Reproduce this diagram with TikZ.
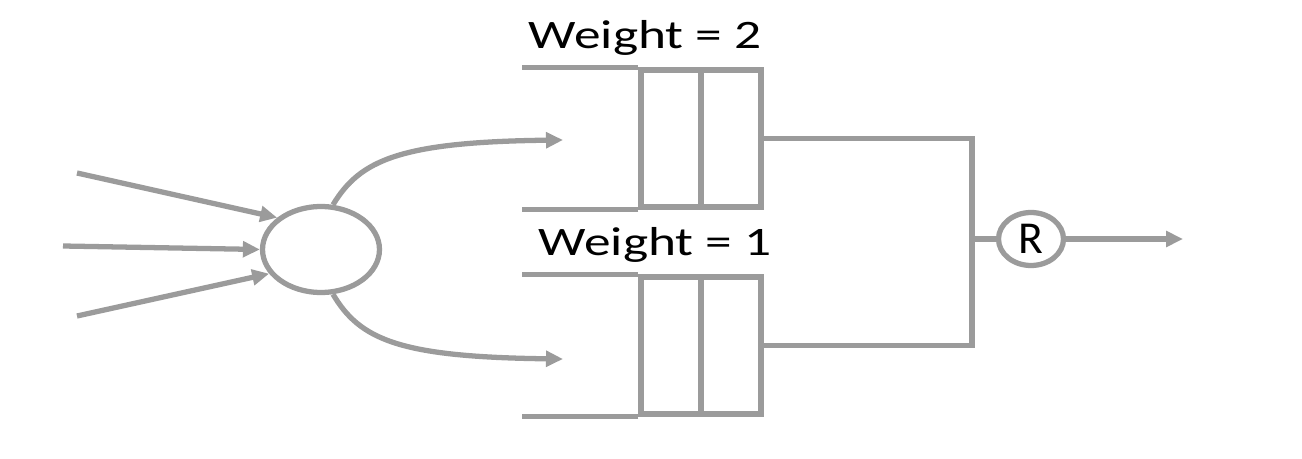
\documentclass[tikz,border=0pt]{standalone}
\usepackage{fontspec}
\setmainfont{Carlito}
\usetikzlibrary{positioning, arrows.meta, shapes.geometric}
\definecolor{lgray}{RGB}{155,155,155}

\begin{document}
\begin{tikzpicture}[x=0.02cm, y=-0.02cm,
    line/.style={draw=lgray, line width=3pt},
    arr/.style={line, -{Triangle[length=3.4mm, width=3.1mm]}},
    cell/.style={line, minimum width=1.2cm, minimum height=2.74cm, inner sep=0pt},
    oval/.style={line, ellipse, inner sep=0pt},
    lbl/.style={font=\fontsize{23}{27}\selectfont, anchor=base, inner sep=0pt}
]
    \useasboundingbox (0,0) rectangle (1302,459);
    % classifier with three inputs
    \node[oval, minimum width=2.34cm, minimum height=1.72cm] (cls) at (321,249.5) {};
    \coordinate (in1) at (77,173);
    \coordinate (in2) at (63,246);
    \coordinate (in3) at (77,316);
    \foreach \i/\a in {1/144, 2/180, 3/205} {
        \draw[arr] (in\i) -- (cls.\a);
    }
    % two queues
    \foreach \q/\y/\w/\lx in {hi/138.5/2/645, lo/345.5/1/655} {
        \node[cell] (\q A) at (671,\y) {};
        \node[cell] (\q B) at (731,\y) {};
        \draw[line] (\q A.north west) -- ++(-116,0);
        \draw[line] (\q A.south west) -- ++(-116,0);
        \node[lbl] (w\q) at (\lx,{\y-90}) {\scalebox{1.32}[1]{Weight = \w}};
    }
    \coordinate (hiin) at (563,140);
    \coordinate (loin) at (563,359);
    \draw[arr] (cls.75) .. controls (360,160) and (400,142) .. (hiin);
    \draw[arr] (cls.-75) .. controls (360,340) and (400,357) .. (loin);
    % round robin output
    \coordinate (jn) at (972,239);
    \node[oval, minimum width=1.3cm, minimum height=1.06cm,
        font=\fontsize{26}{30}\selectfont] (rr) at (1031,239) {R};
    \coordinate (out) at (1183,239);
    \draw[line] (hiB.east) -| (jn);
    \draw[line] (loB.east) -| (jn);
    \draw[line] (jn) -- (rr);
    \draw[arr] (rr) -- (out);
\end{tikzpicture}
\end{document}
